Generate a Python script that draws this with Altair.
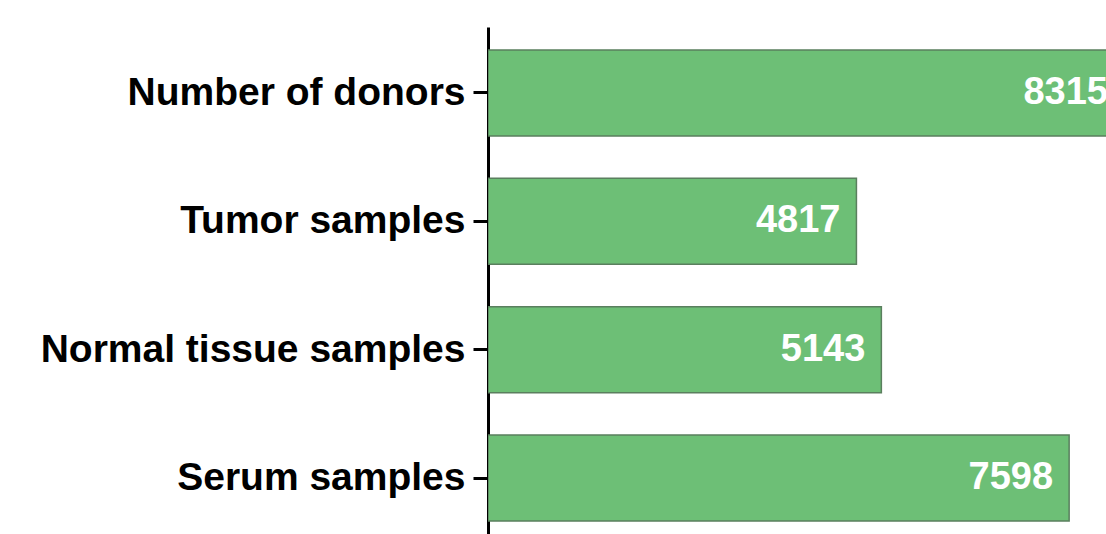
import altair as alt
import pandas as pd

categories = ["Number of donors", "Tumor samples", "Normal tissue samples", "Serum samples"]
values = [8315, 4817, 5143, 7598]

df = pd.DataFrame({"category": categories, "value": values})

FONT = "Liberation Sans, Arial, Helvetica, sans-serif"

y_enc = alt.Y(
    "category:N",
    sort=categories,
    title=None,
    scale=alt.Scale(paddingInner=0.33, paddingOuter=0.14, align=0.64),
    axis=alt.Axis(
        domainColor="#000000",
        domainWidth=3,
        tickColor="#000000",
        tickWidth=3,
        tickSize=15,
        labelPadding=8,
        labelFont=FONT,
        labelFontSize=39,
        labelFontWeight="bold",
        labelColor="#000000",
        labelLimit=600,
    ),
)

x_enc = alt.X("value:Q", axis=None, scale=alt.Scale(domain=[0, 8080], nice=False, zero=True))

bars = alt.Chart(df).mark_bar(
    color="#6dbf76", stroke="#5a7f5e", strokeWidth=1.5, clip=True
).encode(x=x_enc, y=y_enc)

labels = alt.Chart(df).mark_text(
    align="right", baseline="middle", dx=-16, color="#ffffff",
    font=FONT, fontSize=38, fontWeight="bold", clip=True
).encode(x=x_enc, y=alt.Y("category:N", sort=categories), text="value:Q")

chart = (bars + labels).properties(
    width=618,
    height=507,
    background="#ffffff",
    autosize=alt.AutoSizeParams(type="none"),
    padding={"left": 488, "top": 27, "right": 0, "bottom": 0},
).configure_view(strokeWidth=0, stroke="transparent")

chart.save("out.html", embed_options={"renderer": "svg", "actions": False})
